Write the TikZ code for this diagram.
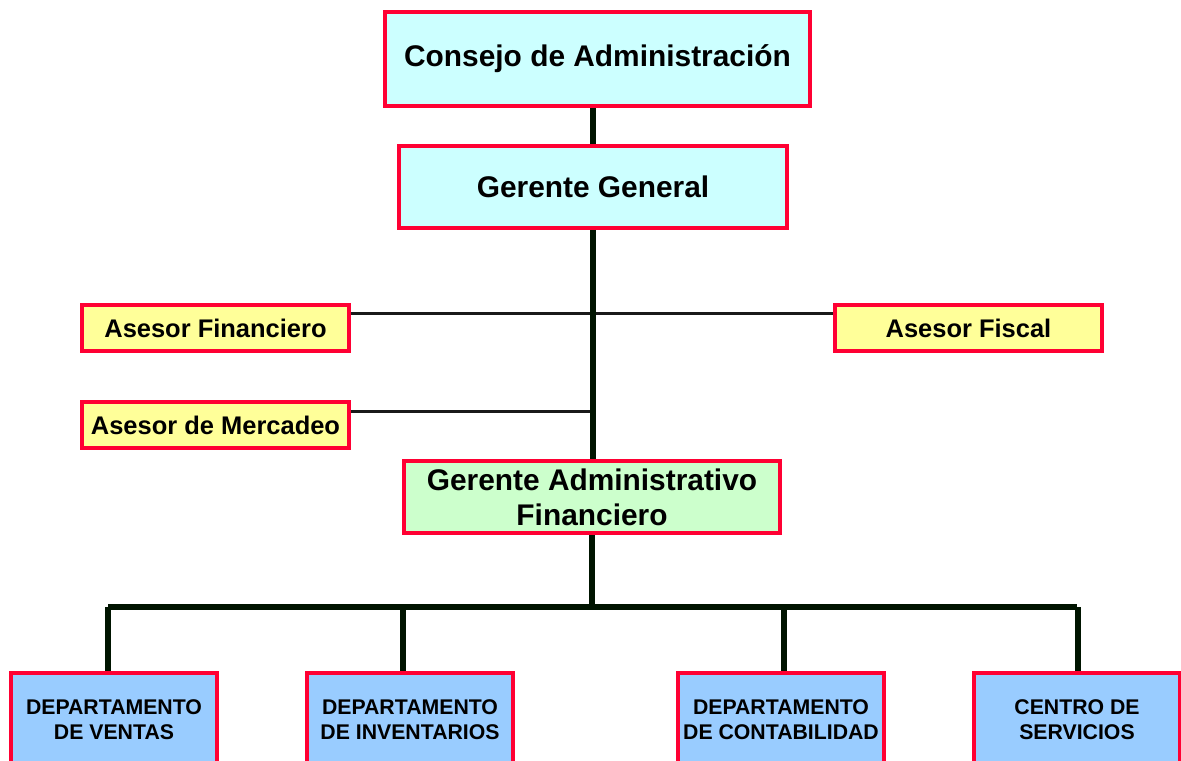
\documentclass[tikz,border=0pt]{standalone}
\usepackage{fontspec}
\setmainfont{Liberation Sans}

\definecolor{borderred}{HTML}{FF0033}
\definecolor{trunkcol}{HTML}{001400}
\definecolor{cyanfill}{HTML}{CCFFFF}
\definecolor{yellowfill}{HTML}{FFFF99}
\definecolor{greenfill}{HTML}{CCFFCC}
\definecolor{bluefill}{HTML}{99CCFF}

\tikzset{
	box/.style={draw=borderred, line width=0.08cm, inner sep=0pt, align=center, font=\bfseries},
	topbox/.style={box, fill=cyanfill, font=\bfseries\fontsize{17}{20}\selectfont},
	asesorbox/.style={box, fill=yellowfill, minimum width=5.34cm, minimum height=0.92cm, font=\bfseries\fontsize{14.5}{17}\selectfont},
	deptbox/.style={box, fill=bluefill, minimum width=4.12cm, minimum height=1.88cm, font=\bfseries\fontsize{12.1}{14.2}\selectfont},
	trunk/.style={trunkcol, line width=0.12cm},
	thinline/.style={black!90, line width=0.06cm}
}

\begin{document}
\begin{tikzpicture}[x=0.02cm, y=-0.02cm]
		\useasboundingbox (0,0) rectangle (1181,761);

		% direccion
		\node[topbox, minimum width=8.5cm, minimum height=1.88cm] (consejo) at (597.5,59) {Consejo de Administraci\'on};
		\node[topbox, minimum width=7.76cm, minimum height=1.64cm] (gerente) at (593,187) {Gerente General};
		\node[topbox, fill=greenfill, minimum width=7.52cm, minimum height=1.44cm] (admin) at (592,497) {Gerente Administrativo\\Financiero};

		% asesores
		\node[asesorbox] (asfin) at (215.5,328) {Asesor Financiero};
		\node[asesorbox] (asfis) at (968.5,328) {Asesor Fiscal};
		\node[asesorbox] (asmer) at (215.5,425) {Asesor de Mercadeo};

		\draw[thinline] ([yshift=0.3cm]asfin.east) -- ([yshift=0.3cm]asfis.west);
		\draw[thinline] ([yshift=0.28cm]asmer.east) -- ([yshift=0.28cm]asmer.east -| gerente.south);

		% linea central
		\draw[trunk] (gerente.north) -- (gerente.north |- consejo.south);
		\draw[trunk] (gerente.south) -- (gerente.south |- admin.north);
		\coordinate (bus) at (592,607);
		\draw[trunk] (admin.south) -- (bus);

		% departamentos
		\foreach \name/\x/\txt in {ventas/114/{DEPARTAMENTO\\DE VENTAS},
				inventarios/410/{DEPARTAMENTO\\DE INVENTARIOS},
				contabilidad/781/{DEPARTAMENTO\\DE CONTABILIDAD},
				servicios/1077/{CENTRO DE\\SERVICIOS}}
			\node[deptbox] (\name) at (\x,720) {\txt};

		\draw[trunk] ([xshift=-0.12cm]ventas.north |- bus) -- (servicios.north |- bus);
		\foreach \name/\dx in {ventas/-0.12,inventarios/-0.14,contabilidad/0.06,servicios/0.02}
			\draw[trunk] ([xshift=\dx cm]\name.north |- bus) -- ([xshift=\dx cm]\name.north);
	\end{tikzpicture}
\end{document}
